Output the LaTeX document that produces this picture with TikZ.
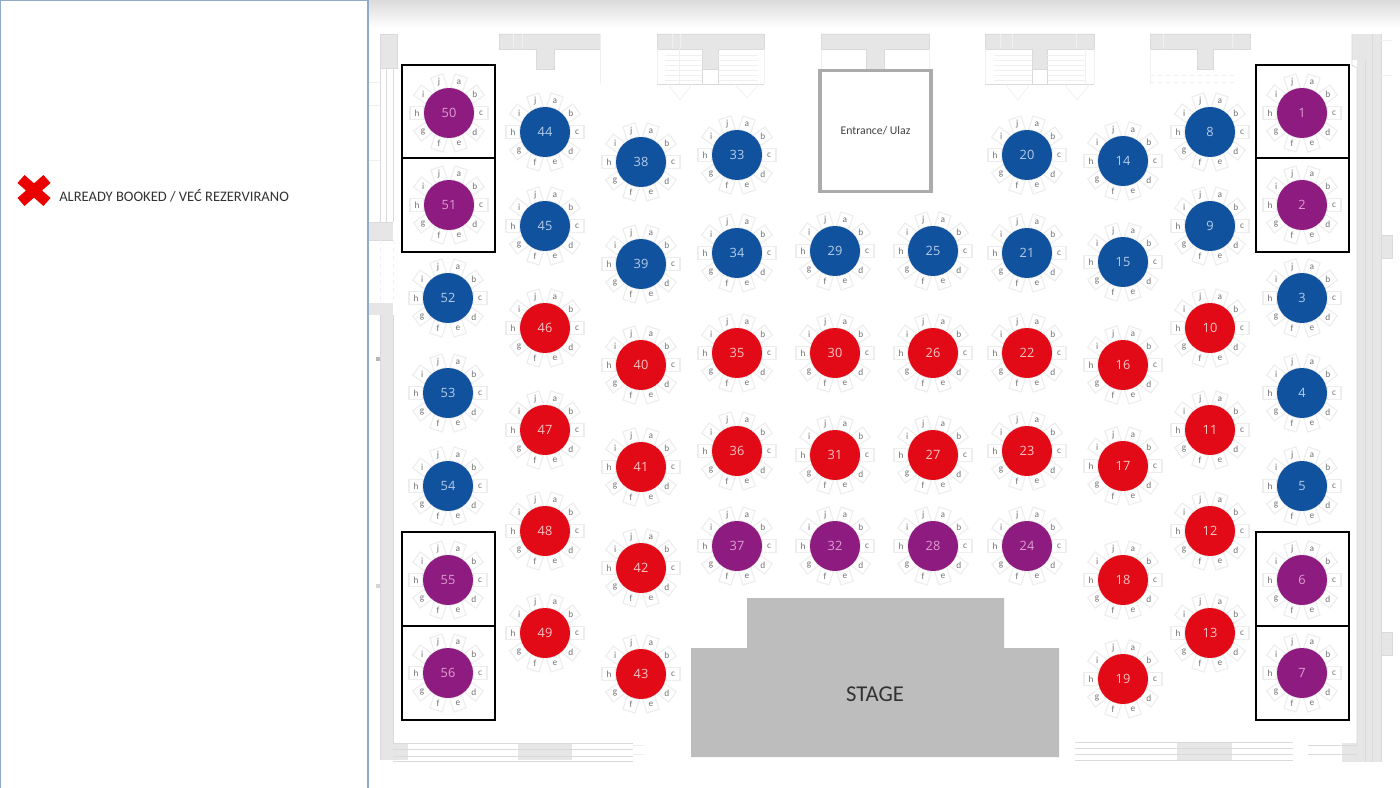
\documentclass[tikz,border=0pt]{standalone}
\usepackage{fontspec}
\setmainfont{Carlito}
\newfontfamily\numfont{Open Sans}
\definecolor{tpurple}{HTML}{8E1B80}
\definecolor{tblue}{HTML}{11529E}
\definecolor{tred}{HTML}{E30A17}
\definecolor{npurple}{HTML}{DC9FD0}
\definecolor{nblue}{HTML}{B5CCE8}
\definecolor{nred}{HTML}{FAC4C4}
\definecolor{wallfill}{HTML}{E6E6E6}
\definecolor{wallline}{HTML}{DADADA}
\definecolor{panelline}{HTML}{8FABC9}
\definecolor{stagegray}{HTML}{BDBDBD}
\tikzset{
  x=0.75pt,y=-0.75pt,
  seatbox/.style={draw=black!7,fill=white,line width=0.8pt,minimum width=9.5pt,minimum height=10.5pt,inner sep=0pt},
  seatletter/.style={text=black!55,font=\fontsize{7}{7}\selectfont,inner sep=0pt},
  tabledisc/.style={circle,minimum size=37.5pt,inner sep=0pt,font=\numfont\fontsize{9.6}{10}\selectfont},
  zonebox/.style={draw=black,line width=2.2pt},
  wall/.style={fill=wallfill,draw=wallline,line width=0.6pt},
  thinwall/.style={draw=wallline,line width=0.6pt},
  faint/.style={draw=black!6,line width=0.5pt},
}
\begin{document}
\begin{tikzpicture}
\useasboundingbox (0,0) rectangle (1400,788);
\fill[white] (0,0) rectangle (1400,788);
% top shading
\shade[top color=black!14,bottom color=white] (368,0) rectangle (1400,28);
% top wall pieces
\foreach \xa/\xb/\sa/\sb in {499/600/536/554,657/764/702/718,821/929/866/884,985/1094/1032/1047,1150/1250/1197/1213}{
  \draw[wall] (\xa,34) -- (\xb,34) -- (\xb,49) -- (\sb,49) -- (\sb,69) -- (\sa,69) -- (\sa,49) -- (\xa,49) -- cycle;
}
\foreach \xx in {513,522,600,672,680,1000,1012,1076,1163,1232}{\draw[faint] (\xx,34) -- (\xx,49);}
% side thin lines under bars
\draw[faint] (600,49) -- (600,84);
\draw[faint] (821,49) -- (821,70) (929,49) -- (929,70);
% stairs left
\foreach \yy in {55,60,65,70,75,80}{\draw[faint] (665,\yy) -- (702,\yy) (718,\yy) -- (758,\yy);}
\draw[thinwall] (657,84) -- (702,84) (718,84) -- (764,84);
\draw[thinwall,fill=white] (702,69) rectangle (718,84);
\draw[faint] (657,49) -- (657,84) (764,49) -- (764,84) (679,49) -- (679,84);
\draw[faint] (668,84) -- (680,100) -- (692,84) (735,84) -- (747,98) -- (759,84);
% stairs right
\foreach \yy in {55,60,65,70,75,80}{\draw[faint] (994,\yy) -- (1032,\yy) (1047,\yy) -- (1085,\yy);}
\draw[thinwall] (985,84) -- (1032,84) (1047,84) -- (1094,84);
\draw[thinwall,fill=white] (1032,69) rectangle (1047,84);
\draw[faint] (985,49) -- (985,84) (1094,49) -- (1094,84) (1085,49) -- (1085,84);
\draw[faint] (1005,84) -- (1018,100) -- (1030,84) (1064,84) -- (1077,100) -- (1090,84);
% right dashed area
\draw[faint,dashed] (1150,75) -- (1235,75) (1150,82) -- (1235,82);
\draw[faint] (1150,49) -- (1150,84);
% left wall
\fill[wallfill] (380,34) rectangle (397,68);
\draw[thinwall] (380,34) rectangle (397,68);
\draw[thinwall] (380,68) -- (380,222) (393,68) -- (393,222) (386,68) -- (386,222);
\draw[faint] (368,82) -- (380,82) (368,105) -- (380,105) (380,160) -- (368,160);
\fill[wallfill] (368,222) rectangle (393,240);
\draw[thinwall] (368,222) -- (393,222) (368,240) -- (393,240);
\draw[faint,dashed] (380,240) -- (380,303) (393,240) -- (393,303);
\fill[wallfill] (368,303) rectangle (393,315);
\fill[wallfill] (380,315) rectangle (393,760);
\draw[thinwall] (380,315) -- (380,760) (393,315) -- (393,745);
\fill[black!28] (376,357) rectangle (380,361);
\fill[black!16] (376,584) rectangle (380,588);
% bottom left walls
\fill[wallfill] (393,743) rectangle (408,760);
\fill[wallfill] (518,743) rectangle (572,760);
\foreach \yy in {743,749,756,761}{\draw[thinwall] (393,\yy) -- (633,\yy);}
\draw[faint] (633,745) -- (645,745) (633,754) -- (645,754);
% bottom right walls
\fill[wallfill] (1177,743) rectangle (1232,760);
\foreach \yy in {742,748,754,760}{\draw[thinwall] (1075,\yy) -- (1293,\yy);}
\fill[wallfill] (1342,743) rectangle (1380,762);
\draw[thinwall] (1308,745) -- (1380,745) (1308,754) -- (1380,754);
% right wall
\fill[wallfill] (1352,34) rectangle (1381,60);
\fill[wallfill] (1357,60) rectangle (1381,762);
\draw[thinwall] (1352,34) -- (1352,65) -- (1357,68) -- (1357,745);
\draw[thinwall] (1372,34) -- (1372,762) (1381,34) -- (1381,762) (1365,60) -- (1365,762);
\draw[thinwall,fill=wallfill] (1381,235) rectangle (1392,258);
\draw[thinwall,fill=wallfill] (1381,632) rectangle (1392,655);
\draw[faint] (1381,75) -- (1392,75) (1381,40) -- (1392,40);
% left panel
\draw[panelline,line width=1.5pt,fill=white] (0,0) rectangle (367.5,790);
% legend
\draw[red!92!black,line width=8pt] (21,179) -- (47,202) (47,179) -- (21,202);
\node[anchor=west,inner sep=0pt,text=black!80,font=\fontsize{10.9}{11}\selectfont] (legend) at (59,196) {ALREADY BOOKED / VEĆ REZERVIRANO};
% stage
\fill[stagegray] (747,598) -- (1004,598) -- (1004,648) -- (1059,648) -- (1059,757) -- (691,757) -- (691,648) -- (747,648) -- cycle;
\node[text=black!80,font=\fontsize{17}{17}\selectfont,inner sep=0pt] (stage) at (875,694) {STAGE};
% entrance
\node[draw=black!33,line width=2.6pt,fill=white,minimum width=83pt,minimum height=91pt,inner sep=0pt,text=black!75,font=\fontsize{8.8}{9}\selectfont] (entrance) at (875.5,131) {Entrance/ Ulaz};
% tables
\foreach \n/\tx/\ty/\c in {
 1/1302/113/purple,2/1302/205/purple,3/1302/298/blue,4/1302/393/blue,5/1302/486/blue,6/1302/580/purple,7/1302/673/purple,
 8/1210/132/blue,9/1210/226/blue,10/1210/328/red,11/1210/430/red,12/1210/531/red,13/1210/633/red,
 14/1123/161/blue,15/1123/262/blue,16/1123/365/red,17/1123/466/red,18/1123/580/red,19/1123/679/red,
 20/1027/155/blue,21/1027/253/blue,22/1027/353/red,23/1027/451/red,24/1027/546/purple,
 25/933/251/blue,26/933/353/red,27/933/455/red,28/933/546/purple,
 29/835/251/blue,30/835/353/red,31/835/455/red,32/835/546/purple,
 33/737/155/blue,34/737/253/blue,35/737/353/red,36/737/451/red,37/737/546/purple,
 38/641/162/blue,39/641/264/blue,40/641/365/red,41/641/467/red,42/641/568/red,43/641/674/red,
 44/545/132/blue,45/545/226/blue,46/545/328/red,47/545/430/red,48/545/531/red,49/545/633/red,
 50/449/113/purple,51/449/205/purple,52/448/298/blue,53/448/393/blue,54/448/486/blue,55/448/580/purple,56/448/673/purple}{
  \foreach \l/\a in {a/72,b/36,c/0,d/-36,e/-72,f/-108,g/-144,h/180,i/144,j/108}{
    \pgfmathsetmacro{\sx}{\tx+32*cos(\a)}
    \pgfmathsetmacro{\sy}{\ty-32*sin(\a)}
    \node[seatbox,rotate=\a-90] (s\n\l) at (\sx,\sy) {};
    \node[seatletter] (l\n\l) at (\sx,\sy) {\l};
  }
  \node[tabledisc,fill=t\c,text=n\c] (t\n) at (\tx,\ty) {\n};
}
% zone boxes
\foreach \xa/\xb in {402/495,1256/1349}{
  \foreach \ya/\yb in {65/158,158/252,532/626,626/720}{
    \draw[zonebox] (\xa,\ya) rectangle (\xb,\yb);
  }
}
\end{tikzpicture}
\end{document}
